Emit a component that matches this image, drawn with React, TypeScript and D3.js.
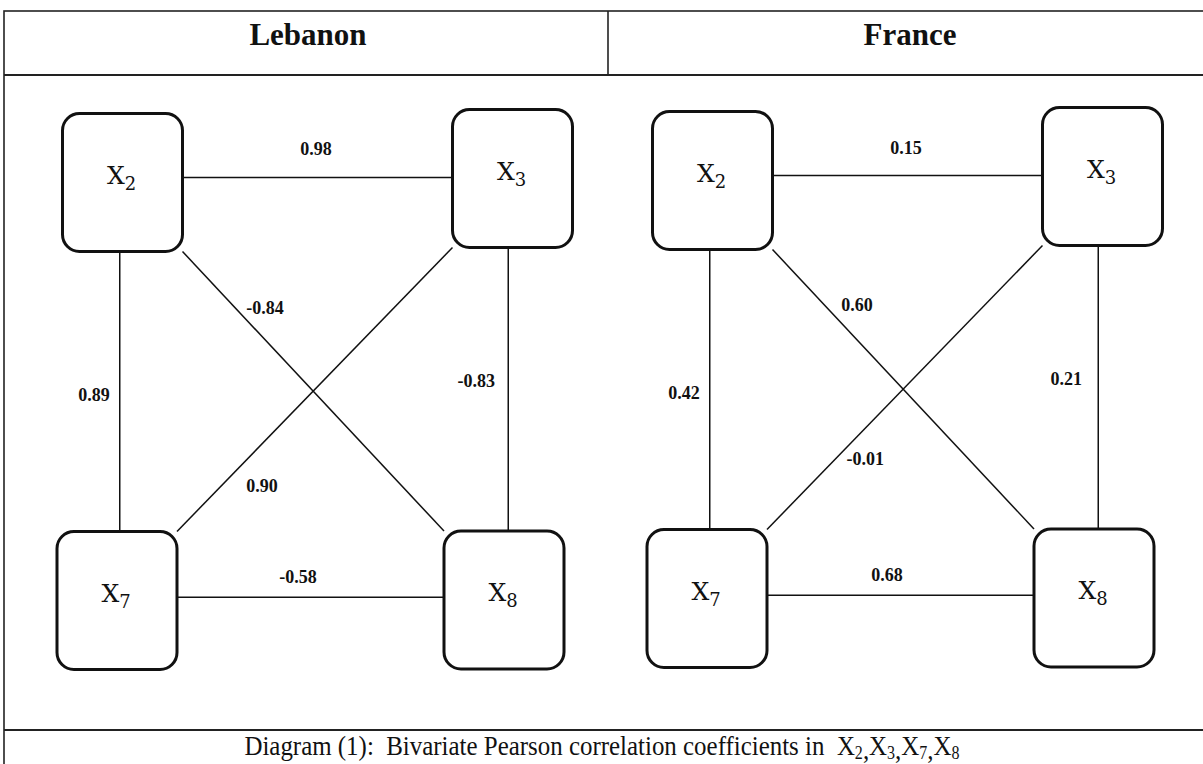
import React from "react";
import * as d3 from "d3";

// data
const countries = ["Lebanon", "France"];
const nodeIds = ["2", "3", "7", "8"];
const nodeCols = [0, 1, 0, 1];
const nodeRows = [0, 0, 1, 1];
const edgeFrom = ["2", "2", "3", "2", "3", "7"];
const edgeTo = ["3", "7", "8", "8", "7", "8"];
const lebanonR = [0.98, 0.89, -0.83, -0.84, 0.9, -0.58];
const franceR = [0.15, 0.42, 0.21, 0.6, -0.01, 0.68];
const captionText = "Diagram (1):  Bivariate Pearson correlation coefficients in  ";
const captionSubs = ["2", "3", "7", "8"];

const Config = {
  width: 1203,
  height: 764,
  frame: { left: 4, top: 11, right: 1215, header: 75, footer: 730, bottom: 790, divider: 608 },
  box: { w: 120, h: 138, r: 17 },
  // small hand-drawn offsets of each box from its grid slot
  nudge: [[2.5, 2.5], [4.5, -1.5], [-3, 0.5], [-4, 0]],
  panels: [
    {
      x: [120, 508],
      y: [180, 600],
      headerX: 308,
      labels: [[0.505, -0.075], [-0.067, 0.51], [0.918, 0.478], [0.374, 0.305], [0.366, 0.729], [0.459, 0.945]],
    },
    {
      x: [710, 1098],
      y: [178, 598],
      headerX: 910,
      labels: [[0.505, -0.072], [-0.067, 0.512], [0.918, 0.479], [0.379, 0.302], [0.4, 0.669], [0.456, 0.945]],
    },
  ],
  font: "'Liberation Serif', 'Times New Roman', serif",
  nodeFont: "'DejaVu Serif', Georgia, serif",
  ink: "#111",
};

const fmt = d3.formatLocale({
  decimal: ".",
  thousands: ",",
  grouping: [3],
  currency: ["", ""],
  minus: "-",
}).format(".2f");

function App() {
  const ref = React.useRef(null);

  React.useEffect(() => {
    const svg = d3.select(ref.current);
    svg.selectAll("*").remove();
    const F = Config.frame;
    const font = Config.font;

    // frame
    const frame = svg.append("g").attr("stroke", "#222").attr("fill", "none");
    frame
      .append("rect")
      .attr("x", F.left)
      .attr("y", F.top)
      .attr("width", F.right - F.left)
      .attr("height", F.bottom - F.top)
      .attr("stroke-width", 1.6);
    frame
      .append("line")
      .attr("x1", F.left)
      .attr("x2", F.right)
      .attr("y1", F.header)
      .attr("y2", F.header)
      .attr("stroke-width", 2);
    frame
      .append("line")
      .attr("x1", F.divider)
      .attr("x2", F.divider)
      .attr("y1", F.top)
      .attr("y2", F.header)
      .attr("stroke-width", 1.6);
    frame
      .append("line")
      .attr("x1", F.left)
      .attr("x2", F.right)
      .attr("y1", F.footer)
      .attr("y2", F.footer)
      .attr("stroke-width", 2);

    const allR = [lebanonR, franceR];
    const { w, h, r } = Config.box;

    countries.forEach((country, pi) => {
      const P = Config.panels[pi];
      const x = d3.scaleLinear().domain([0, 1]).range(P.x);
      const y = d3.scaleLinear().domain([0, 1]).range(P.y);
      const values = allR[pi];
      const center = (id) => {
        const i = nodeIds.indexOf(id);
        return {
          c: nodeCols[i],
          r: nodeRows[i],
          x: x(nodeCols[i]) + Config.nudge[i][0],
          y: y(nodeRows[i]) + Config.nudge[i][1],
        };
      };

      svg
        .append("text")
        .attr("x", P.headerX)
        .attr("y", 45)
        .attr("text-anchor", "middle")
        .attr("font-family", font)
        .attr("font-weight", "bold")
        .attr("font-size", 31)
        .attr("fill", Config.ink)
        .text(country);

      const g = svg.append("g");

      // connectors
      g.selectAll("line.edge")
        .data(values.map((v, i) => ({ a: center(edgeFrom[i]), b: center(edgeTo[i]), v })))
        .join("line")
        .attr("class", "edge")
        .attr("stroke", Config.ink)
        .attr("stroke-width", 1.5)
        .each(function (d) {
          let x1 = d.a.x, y1 = d.a.y, x2 = d.b.x, y2 = d.b.y;
          if (d.a.r === d.b.r) {
            y1 = y2 = (d.a.y + d.b.y) / 2 - 3;
          } else if (d.a.c === d.b.c) {
            x1 = x2 = (d.a.x + d.b.x) / 2;
          } else {
            const sx = Math.sign(x2 - x1), sy = Math.sign(y2 - y1);
            x1 += (sx * w) / 2;
            y1 += (sy * h) / 2;
            x2 -= (sx * w) / 2;
            y2 -= (sy * h) / 2;
          }
          d3.select(this).attr("x1", x1).attr("y1", y1).attr("x2", x2).attr("y2", y2);
        });

      // coefficient labels
      g.selectAll("text.coef")
        .data(values)
        .join("text")
        .attr("class", "coef")
        .attr("x", (d, i) => x(P.labels[i][0]))
        .attr("y", (d, i) => y(P.labels[i][1]))
        .attr("dy", "0.35em")
        .attr("text-anchor", "middle")
        .attr("font-family", font)
        .attr("font-weight", "bold")
        .attr("font-size", 18)
        .attr("fill", Config.ink)
        .text((d) => fmt(d));

      // nodes
      const node = g
        .selectAll("g.node")
        .data(nodeIds)
        .join("g")
        .attr("class", "node")
        .attr("transform", (d) => {
          const p = center(d);
          return `translate(${p.x},${p.y})`;
        });

      node
        .append("rect")
        .attr("x", -w / 2)
        .attr("y", -h / 2)
        .attr("width", w)
        .attr("height", h)
        .attr("rx", r)
        .attr("fill", "#fff")
        .attr("stroke", Config.ink)
        .attr("stroke-width", 3);

      const t = node
        .append("text")
        .attr("x", -1)
        .attr("y", 1)
        .attr("text-anchor", "middle")
        .attr("font-family", Config.nodeFont)
        .attr("font-size", 25)
        .attr("fill", Config.ink);
      t.append("tspan").text("X");
      t.append("tspan")
        .attr("font-size", 18)
        .attr("dy", 6)
        .text((d) => d);
    });

    // caption (slightly condensed like the source scan)
    const cap = svg
      .append("g")
      .attr("transform", "translate(602,755) scale(0.89,1)")
      .append("text")
      .attr("x", 0)
      .attr("y", 0)
      .attr("text-anchor", "middle")
      .attr("font-family", font)
      .attr("font-size", 28)
      .attr("fill", Config.ink)
      .style("white-space", "pre");
    cap.append("tspan").text(captionText);
    captionSubs.forEach((s, i) => {
      cap.append("tspan").attr("dy", i === 0 ? 0 : -4).text("X");
      cap.append("tspan").attr("font-size", 18).attr("dy", 4).text(s);
      if (i < captionSubs.length - 1) cap.append("tspan").text(",");
    });
  }, []);

  return (
    <svg
      ref={ref}
      width={Config.width}
      height={Config.height}
      style={{ position: "absolute", left: 0, top: 0, background: "#fff" }}
    />
  );
}

export default App;
